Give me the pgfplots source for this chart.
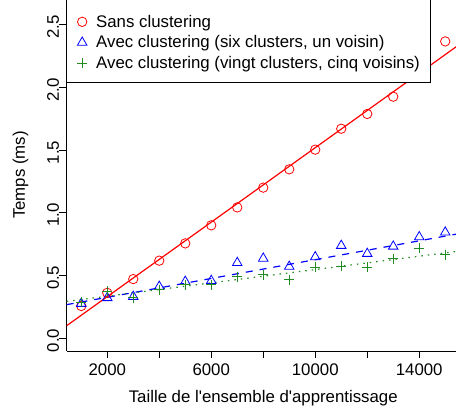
\documentclass[border=0pt]{standalone}
\usepackage{fontspec}
\setmainfont{Liberation Sans}
\usepackage{pgfplots}
\pgfplotsset{compat=1.18}
\definecolor{rred}{RGB}{255,0,0}
\definecolor{rblue}{RGB}{0,0,255}
\definecolor{rgreen}{RGB}{34,139,34}
\begin{document}
\begin{tikzpicture}
\begin{axis}[
  name=ax, at={(0,0)}, anchor=south west,
  scale only axis, width=393.1pt, height=351.8pt,
  xmin=440, xmax=15560, ymin=-0.104, ymax=2.704,
  axis x line*=bottom, axis y line*=left,
  axis line style={-, line width=0.8pt, black},
  tick align=outside, major tick length=7.5pt,
  every tick/.style={black, line width=0.8pt},
  font=\fontsize{16.8}{20}\selectfont,
  /pgf/number format/assume math mode=true,
  scaled x ticks=false, scaled y ticks=false,
  xtick={2000,4000,6000,8000,10000,12000,14000},
  xticklabels={2000,,6000,,10000,,14000},
  ytick={0,0.5,1,1.5,2,2.5},
  yticklabels={0.0,0.5,1.0,1.5,2.0,2.5},
  xticklabel style={anchor=north, inner sep=0pt, yshift=-4.8pt},
  yticklabel style={rotate=90, anchor=south, inner sep=0pt, xshift=-2.5pt},
  xlabel={Taille de l\textquotesingle ensemble d\textquotesingle apprentissage},
  ylabel={Temps (ms)},
  xlabel style={at={(axis description cs:0.5,-0.1478)}, anchor=base, inner sep=0pt},
  ylabel style={at={(axis description cs:-0.1061,0.5)}, anchor=base, rotate=0, inner sep=0pt},
  legend cell align=left,
  legend style={name=leg, at={(0,1)}, anchor=north west, yshift=-3pt, draw=none,
    fill=white, inner xsep=10.3pt, inner ysep=12.6pt, row sep=7pt, column sep=9pt,
    nodes={inner sep=0pt}, font=\fontsize{16.8}{20}\selectfont},
  legend image code/.code={\draw[#1] plot coordinates {(0pt,0pt)}; \path[draw=none,fill=none] (-5pt,-5pt) rectangle (5pt,5pt);},
]
% regression lines
\addplot[forget plot, rred, line width=1.2pt] coordinates {(440,0.098) (15560,2.345)};
\addplot[forget plot, rblue, line width=1.2pt, dash pattern=on 7pt off 7pt] coordinates {(440,0.266) (15560,0.834)};
\addplot[forget plot, rgreen, line width=1.2pt, dash pattern=on 1.5pt off 5pt] coordinates {(440,0.292) (15560,0.694)};
% data
\addplot[only marks, rred, mark=o, mark size=4.7pt, line width=0.8pt] coordinates {
(1000,0.255) (2000,0.36) (3000,0.47) (4000,0.617) (5000,0.755) (6000,0.899) (7000,1.042)
(8000,1.20) (9000,1.346) (10000,1.503) (11000,1.670) (12000,1.788) (13000,1.926) (14000,2.115) (15000,2.367)};
\addplot[only marks, rblue, mark=triangle, mark size=5.5pt, line width=0.8pt] coordinates {
(1000,0.274) (2000,0.32) (3000,0.33) (4000,0.41) (5000,0.45) (6000,0.457) (7000,0.60)
(8000,0.635) (9000,0.57) (10000,0.646) (11000,0.737) (12000,0.673) (13000,0.731) (14000,0.806) (15000,0.843)};
\addplot[only marks, rgreen, mark=+, mark size=5pt, line width=0.8pt] coordinates {
(1000,0.284) (2000,0.372) (3000,0.32) (4000,0.385) (5000,0.425) (6000,0.425) (7000,0.49)
(8000,0.505) (9000,0.465) (10000,0.564) (11000,0.572) (12000,0.564) (13000,0.633) (14000,0.715) (15000,0.665)};
\legend{Sans clustering, Avec clustering (six clusters{,} un voisin), Avec clustering (vingt clusters{,} cinq voisins)}
\end{axis}
\fill[white] (leg.north west) rectangle ([yshift=6pt]ax.north west -| leg.north east);
\draw[line width=0.8pt, black] ([yshift=6pt]ax.north west -| leg.north west) -- (leg.south west) -- (leg.south east) -- ([yshift=6pt]ax.north west -| leg.north east);
\pgfresetboundingbox
\path (ax.south west) ++(-66.7pt,-63pt) rectangle ++(456pt,414pt);
\end{tikzpicture}
\end{document}
